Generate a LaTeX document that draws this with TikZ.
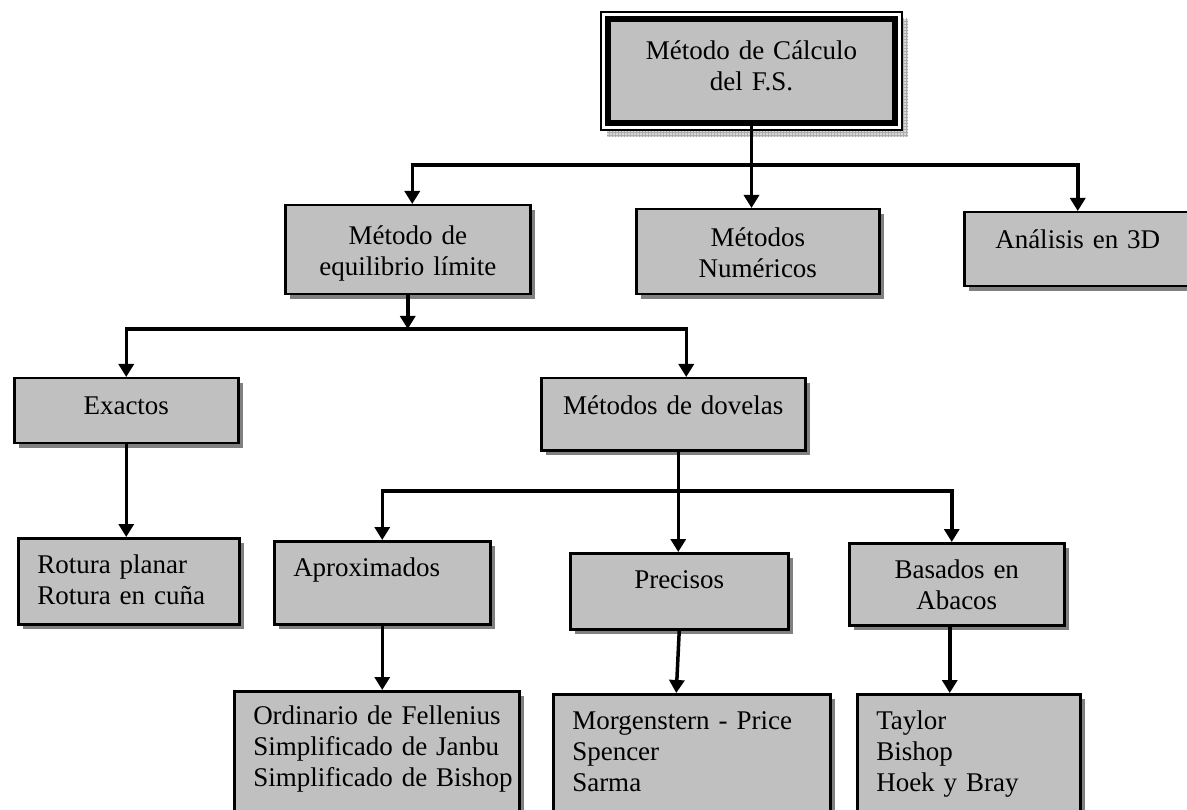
\documentclass[tikz,border=0pt]{standalone}
\usepackage{tikz}
\usepackage{xcolor}
\usepackage{fontspec}
\setmainfont{Liberation Serif}
\usetikzlibrary{arrows.meta}
\usetikzlibrary{shadows}
\usetikzlibrary{patterns}
\definecolor{boxgray}{HTML}{C0C0C0}
\definecolor{shadegray}{HTML}{808080}
\tikzset
  {box/.style={draw=black,line width=2.5pt,fill=boxgray,inner ysep=0pt,anchor=north west,
               drop shadow={shadow xshift=5pt,shadow yshift=-5pt,fill=shadegray,opacity=1},
               font=\fontsize{27}{31}\selectfont},
   cbox/.style n args={3}{box,inner xsep=0pt,text width=#1,text height=#2,text depth=#3,align=center},
   lbox/.style n args={3}{box,inner xsep=0pt,text width=#1,text height=#2,text depth=#3,align=left},
   fsbox/.style={draw=black,line width=6pt,fill=boxgray,inner sep=0pt,outer sep=0pt,anchor=north west,
                 align=center,font=\fontsize{27}{31}\selectfont},
   conn/.style={line width=3.5pt},
   arr/.style={conn,-{Triangle[width=15pt,length=13pt]}}}
\newcommand{\indline}[1]{\hspace*{19pt}#1}

\begin{document}
\begin{tikzpicture}[x=1pt,y=-1pt]
 \useasboundingbox (0,0) rectangle (1187,810);
 \clip (0,0) rectangle (1187,810);

 % cuadro principal con doble marco
 \fill[gray!30] (607,19) rectangle (908,137);
 \fill[pattern=grid,pattern color=gray!65] (607,19) rectangle (908,137);
 \draw[line width=1.2pt,fill=white] (601,12) rectangle (902,130);
 \draw (608,19) node[fsbox,text width=287pt,text height=41pt,text depth=63pt] (fs)
              {Método de Cálculo\\del F.S.};

 % segundo nivel
 \draw (284,204) node[cbox={245pt}{39pt}{50pt}] (equil) {Método de\\equilibrio límite};
 \draw (635,208) node[cbox={243pt}{37pt}{48pt}] (num) {Métodos\\Numéricos};
 \draw (963,211) node[cbox={227pt}{36pt}{38pt}] (ana) {Análisis en 3D};

 % tercer nivel
 \draw (13,377)  node[cbox={224pt}{36pt}{29pt}] (exa) {Exactos};
 \draw (540,377) node[cbox={264pt}{36pt}{36pt}] (dov) {Métodos de dovelas};

 % cuarto nivel
 \draw (17,537)  node[lbox={221pt}{35pt}{51pt}] (rot)
              {\indline{Rotura planar}\\\indline{Rotura en cuña}};
 \draw (273,540) node[lbox={216pt}{35pt}{48pt}] (apr) {\indline{Aproximados}};
 \draw (569,552) node[cbox={218pt}{35pt}{41pt}] (pre) {Precisos};
 \draw (848,542) node[cbox={215pt}{35pt}{47pt}] (bas) {Basados en\\Abacos};

 % quinto nivel
 \draw (233,690) node[lbox={285pt}{33pt}{117pt}] (fel)
              {\indline{Ordinario de Fellenius}\\\indline{Simplificado de Janbu}\\\indline{Simplificado de Bishop}};
 \draw (552,693) node[lbox={277pt}{35pt}{112pt}] (mor)
              {\indline{Morgenstern - Price}\\\indline{Spencer}\\\indline{Sarma}};
 \draw (856,693) node[lbox={223pt}{35pt}{112pt}] (tay)
              {\indline{Taylor}\\\indline{Bishop}\\\indline{Hoek y Bray}};

 % conectores
 \coordinate (j1) at (fs.south |- 0,165);
 \coordinate (j2) at (equil.south |- 0,329);
 \coordinate (d1) at ([xshift=5pt]dov.south);
 \coordinate (j3) at (d1 |- 0,491);
 \coordinate (b1) at ([xshift=-7pt]bas.south);

 \draw[arr] (fs.south) -- (fs.south |- num.north);
 \draw[arr] (j1) -| ([xshift=4.5pt]equil.north);
 \draw[arr] (j1) -| (ana.north);

 \draw[arr] (equil.south) -- (j2);
 \draw[arr] (j2) -| (exa.north);
 \draw[arr] (j2) -| ([xshift=13pt]dov.north);

 \draw[arr] (exa.south) -- (exa.south |- rot.north);
 \draw[arr] (d1) -- (d1 |- pre.north);
 \draw[arr] (j3) -| (apr.north);
 \draw[arr] (j3) -| ([xshift=-5pt]bas.north);

 \draw[arr] (apr.south) -- (apr.south |- fel.north);
 \draw[arr] (pre.south) -- ([xshift=-3pt]pre.south |- mor.north);
 \draw[arr] (b1) -- (b1 |- tay.north);
\end{tikzpicture}
\end{document}
